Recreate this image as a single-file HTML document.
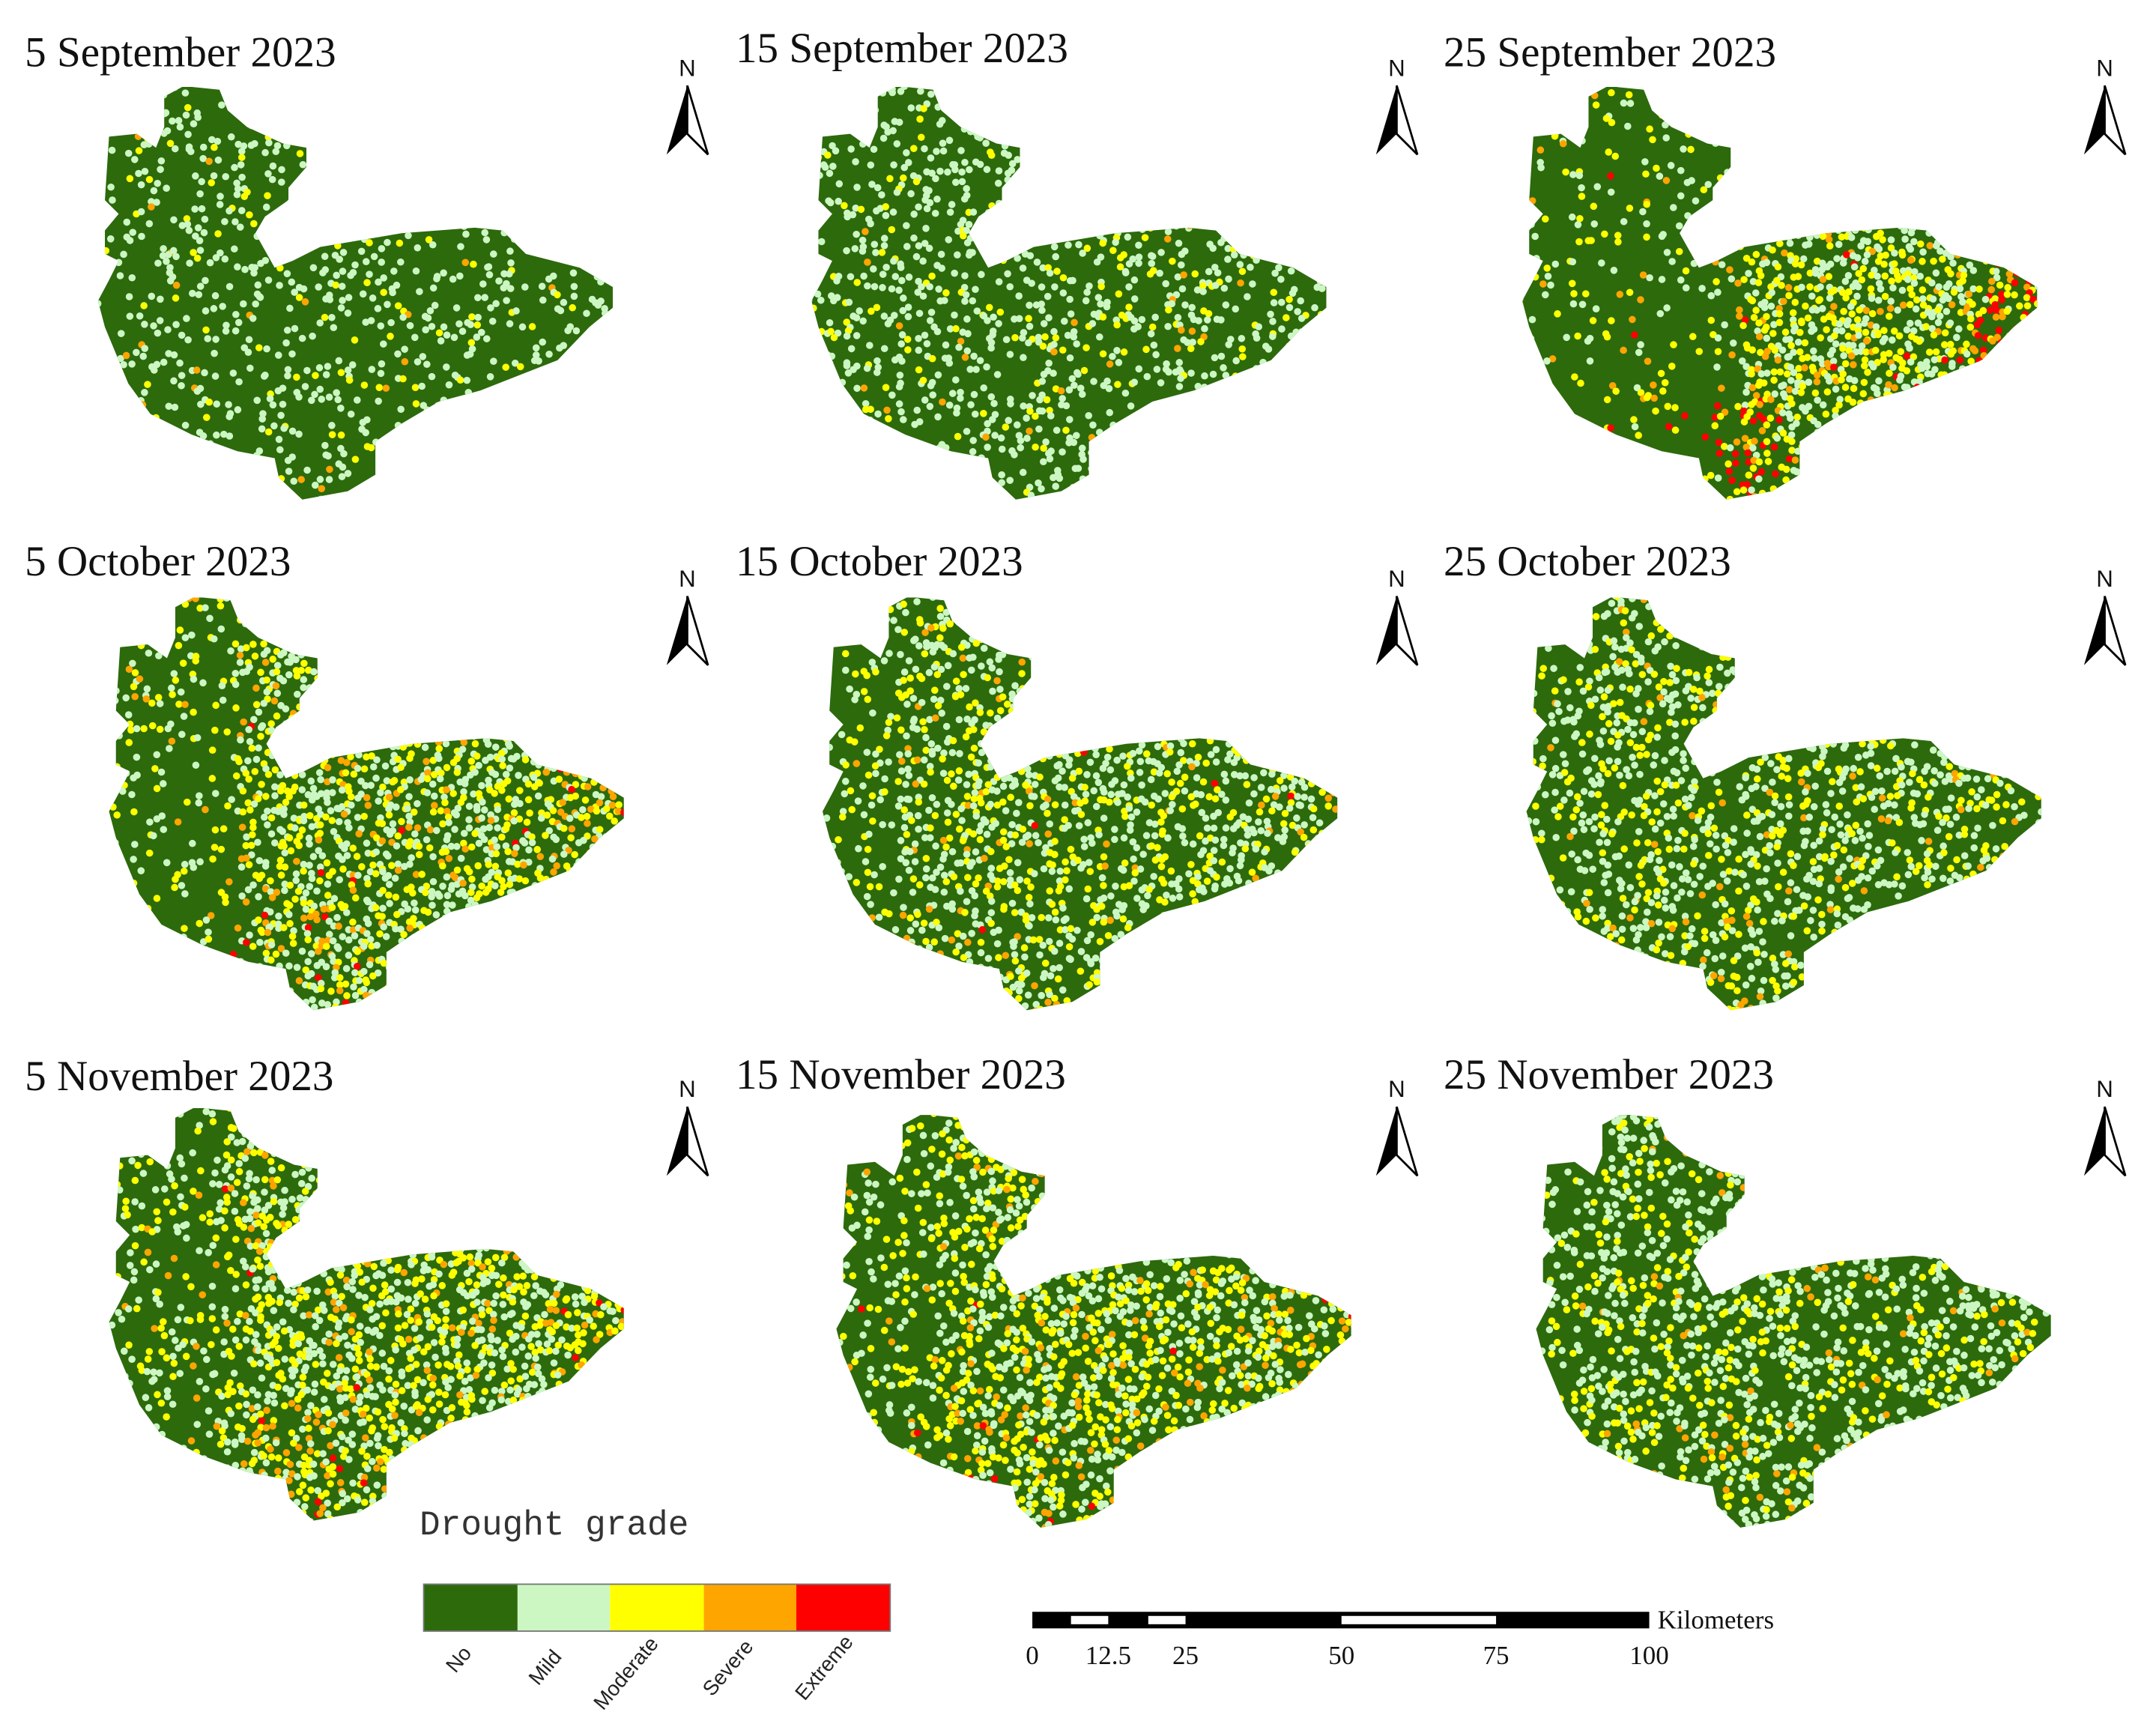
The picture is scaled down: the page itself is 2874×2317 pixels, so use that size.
<!DOCTYPE html>
<html><head><meta charset="utf-8">
<style>
html,body{margin:0;padding:0;background:#fff;}
svg{display:block;}
.t{font-family:"Liberation Serif",serif;font-size:31px;fill:#111;}
</style></head>
<body>
<svg id="fig" width="2874" height="2317" viewBox="0 0 1560 1258" preserveAspectRatio="none" xmlns="http://www.w3.org/2000/svg">
<defs>
<clipPath id="shape"><polygon id="shapePoly" points=""/></clipPath>
</defs>
<g id="maps"></g>

<g>
<text x="304" y="1112" style="font-family:'Liberation Mono',monospace;font-size:25px;fill:#333">Drought grade</text>
<rect x="307" y="1148" width="68" height="34" fill="#2c6a0c"/>
<rect x="375" y="1148" width="67" height="34" fill="#ccf7c3"/>
<rect x="442" y="1148" width="68" height="34" fill="#ffff00"/>
<rect x="510" y="1148" width="67" height="34" fill="#ffa500"/>
<rect x="577" y="1148" width="68" height="34" fill="#ff0000"/>
<rect x="307" y="1148" width="338" height="34" fill="none" stroke="#777" stroke-width="1"/>
<g style="font-family:'Liberation Sans',sans-serif;font-size:15px;fill:#222">
<text transform="translate(330,1213) rotate(-50)">No</text>
<text transform="translate(390,1222) rotate(-50)">Mild</text>
<text transform="translate(437,1240) rotate(-50)">Moderate</text>
<text transform="translate(516,1230) rotate(-50)">Severe</text>
<text transform="translate(583,1233) rotate(-50)">Extreme</text>
</g>
</g>

<g>
<rect x="748" y="1168" width="447" height="12" fill="#000"/>
<rect x="776" y="1171" width="27" height="6" fill="#fff"/>
<rect x="832" y="1171" width="27" height="6" fill="#fff"/>
<rect x="972" y="1171" width="112" height="6" fill="#fff"/>
<g style="font-family:'Liberation Serif',serif;font-size:19px;fill:#111" text-anchor="middle">
<text x="748" y="1206">0</text><text x="803" y="1206">12.5</text><text x="859" y="1206">25</text>
<text x="972" y="1206">50</text><text x="1084" y="1206">75</text><text x="1195" y="1206">100</text>
</g>
<text x="1201" y="1180" style="font-family:'Liberation Serif',serif;font-size:19px;fill:#111">Kilometers</text>
</g>
</svg>
<script>
const titles=["5 September 2023","15 September 2023","25 September 2023","5 October 2023","15 October 2023","25 October 2023","5 November 2023","15 November 2023","25 November 2023"];
const density=[0.33,0.45,0.4,0.55,0.62,0.58,0.6,0.72,0.6];
const eastDensity=[0.33,0.45,0.95,0.85,0.65,0.58,0.85,0.8,0.6];
const yellowShare=[0.15,0.2,0.38,0.38,0.33,0.33,0.4,0.4,0.3];
const orangeShare=[0.03,0.03,0.1,0.09,0.04,0.05,0.09,0.08,0.05];
const redShare=[0,0,0.05,0.01,0.005,0,0.01,0.01,0];
const westCut=[0,0,0.38,0.25,0.15,0.1,0.22,0.2,0.1];
const pts=[[139,63],[159,65],[165,80],[179,92],[205,104],[222,107],[222,121],[209,136],[209,145],[192,157],[185,169],[199,194],[212,189],[232,179],[291,169],[344,165],[364,167],[381,184],[420,194],[444,208],[444,223],[427,237],[404,261],[348,283],[318,291],[291,307],[272,320],[272,344],[252,356],[219,362],[202,346],[199,332],[172,327],[139,315],[109,300],[93,278],[76,237],[71,218],[79,203],[86,189],[76,184],[76,167],[86,155],[76,145],[79,99],[99,97],[113,107],[119,92],[119,70],[132,63]];
document.getElementById('shapePoly').setAttribute('points',pts.map(p=>p.join(',')).join(' '));
const offs=[[0,0],[517,0],[1032,0],[8,370],[525,370],[1035,370],[8,740],[535,745],[1042,745]];
const titlePos=[[18,48],[533,45],[1046,48],[18,417],[533,417],[1046,417],[18,790],[533,789],[1046,789]];
const NS='http://www.w3.org/2000/svg';
let s=12345;function rnd(){s|=0;s=s+0x6D2B79F5|0;let t=Math.imul(s^s>>>15,1|s);t=t+Math.imul(t^t>>>7,61|t)^t;return((t^t>>>14)>>>0)/4294967296;}
const maps=document.getElementById('maps');
const C=['#ccf7c3','#ffff00','#ffa500','#ff0000'];
for(let i=0;i<9;i++){
  const [dx,dy]=offs[i];
  const g=document.createElementNS(NS,'g');
  
  
  g.setAttribute('transform','translate('+dx+','+dy+')');
  const inner=document.createElementNS(NS,'g');inner.setAttribute('clip-path','url(#shape)');
  const bg=document.createElementNS(NS,'polygon');bg.setAttribute('points',pts.map(p=>p.join(',')).join(' '));bg.setAttribute('fill','#2c6a0c');
  g.appendChild(bg);
  let html='';
  for(let y=60;y<366;y+=4.5)for(let x=68;x<448;x+=4.5){
    const px=x+rnd()*4-2,py=y+rnd()*4-2;
    const u=(px-70)/375,v=(py-62)/300;
    let d=u<westCut[i]?density[i]*0.5:(u<westCut[i]+0.05?density[i]:eastDensity[i]);
    if(rnd()>d*0.6)continue;
    let r=rnd(),c;
    let red=redShare[i]*((u>0.88||(v>0.75&&u<0.5))?6:0.4);
    let ora=orangeShare[i]*((u>0.85||(v>0.7&&u<0.5))?2:1);
    if(r<red)c=C[3];else if(r<red+ora)c=C[2];else if(r<red+ora+yellowShare[i])c=C[1];else c=C[0];
    html+='<circle cx="'+px.toFixed(1)+'" cy="'+py.toFixed(1)+'" r="2.6" fill="'+c+'"/>';
  }
  inner.innerHTML=html;g.appendChild(inner);maps.appendChild(g);
  const t=document.createElementNS(NS,'text');
  t.setAttribute('x',titlePos[i][0]);t.setAttribute('y',titlePos[i][1]);t.setAttribute('class','t');
  
  
  t.textContent=titles[i];maps.appendChild(t);
  const ax=[498,1012,1525][i%3],ay=[40,410,780][Math.floor(i/3)];
  const n=document.createElementNS(NS,'g');
  
  
  n.innerHTML='<text x="'+ax+'" y="'+(ay+15)+'" text-anchor="middle" style="font-family:Liberation Sans,sans-serif;font-size:17px;fill:#111">N</text>'+
   '<polygon points="'+ax+','+(ay+22)+' '+(ax-15)+','+(ay+72)+' '+ax+','+(ay+57)+'" fill="#000"/>'+
   '<polygon points="'+ax+','+(ay+22)+' '+(ax+15)+','+(ay+72)+' '+ax+','+(ay+57)+'" fill="#fff" stroke="#000" stroke-width="1.5"/>';
  maps.appendChild(n);
}
</script>
</body></html>
